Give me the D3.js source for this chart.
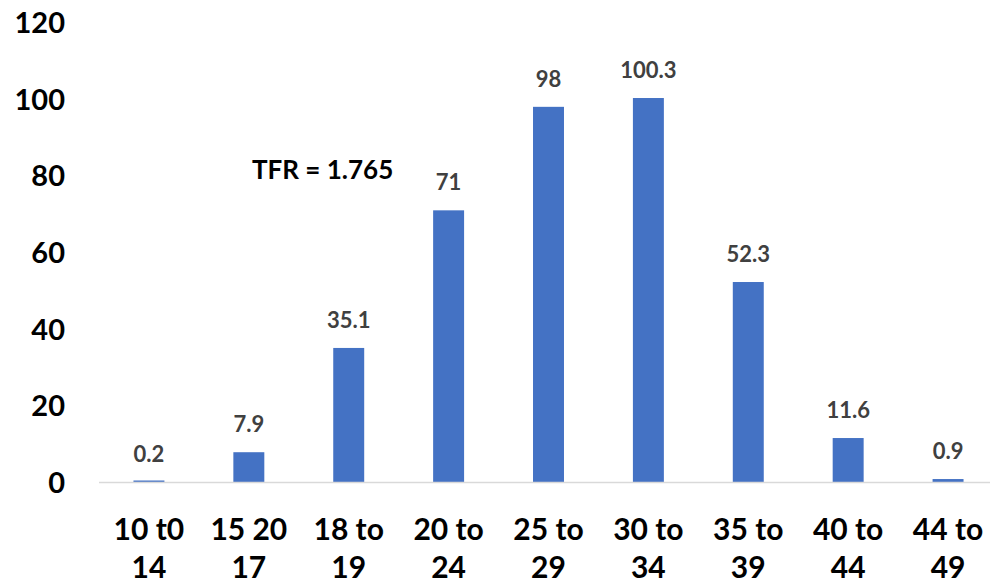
<!DOCTYPE html>
<html><head><meta charset="utf-8">
<script src="https://cdn.jsdelivr.net/npm/d3@7"></script>
<style>body{margin:0;background:#fff}svg{display:block}</style>
</head><body><div id="chart"></div>
<script>
const categories = [["10 t0","14"],["15 20","17"],["18 to","19"],["20 to","24"],["25 to","29"],["30 to","34"],["35 to","39"],["40 to","44"],["44 to","49"]];
const values = [0.2, 7.9, 35.1, 71, 98, 100.3, 52.3, 11.6, 0.9];
const valueLabels = ["0.2","7.9","35.1","71","98","100.3","52.3","11.6","0.9"];
const yTicks = [0, 20, 40, 60, 80, 100, 120];
const annotation = "TFR = 1.765";

const W = 990, H = 583;
const font = "Lato, 'Open Sans', sans-serif";
const svg = d3.select("#chart").append("svg").attr("width", W).attr("height", H);

const x = d3.scaleBand().domain(d3.range(categories.length)).range([99, 998]).paddingInner(0.69).paddingOuter(0.345);
const y = d3.scaleLinear().domain([0, 120]).range([482.5, 22.5]);

// y tick labels
svg.append("g").selectAll("text").data(yTicks).join("text")
  .attr("x", 65).attr("y", d => y(d)).attr("dy", "0.36em")
  .attr("text-anchor", "end").attr("font-family", font).attr("font-weight", 700)
  .attr("font-size", 29).attr("fill", "#000").text(d => d);

// bars
svg.append("g").selectAll("rect").data(values).join("rect")
  .attr("x", (d, i) => x(i)).attr("width", x.bandwidth())
  .attr("y", d => Math.min(y(d), y(0) - 2)).attr("height", d => Math.max(y(0) - y(d), 2))
  .attr("fill", "#4472C4");

// baseline
svg.append("line").attr("x1", 99).attr("x2", 998).attr("y1", y(0)).attr("y2", y(0))
  .attr("stroke", "#D9D9D9").attr("stroke-width", 1.3);

// value labels
svg.append("g").selectAll("text").data(values).join("text")
  .attr("x", (d, i) => x(i) + x.bandwidth() / 2).attr("y", d => y(d) - 20)
  .attr("text-anchor", "middle").attr("font-family", font).attr("font-weight", 700)
  .attr("font-size", 22).attr("fill", "#404040").text((d, i) => valueLabels[i]);

// category labels
const cat = svg.append("g").selectAll("text").data(categories).join("text")
  .attr("text-anchor", "middle").attr("font-family", font).attr("font-weight", 700)
  .attr("font-size", 30).attr("fill", "#000");
cat.each(function(d, i) {
  const t = d3.select(this);
  const cx = x(i) + x.bandwidth() / 2;
  t.append("tspan").attr("x", cx).attr("y", 540).text(d[0]);
  t.append("tspan").attr("x", cx).attr("y", 578).text(d[1]);
});

// annotation
svg.append("text").attr("x", 252).attr("y", 179).attr("font-family", font).attr("font-weight", 700)
  .attr("font-size", 26).attr("fill", "#000").text(annotation);
</script></body></html>
